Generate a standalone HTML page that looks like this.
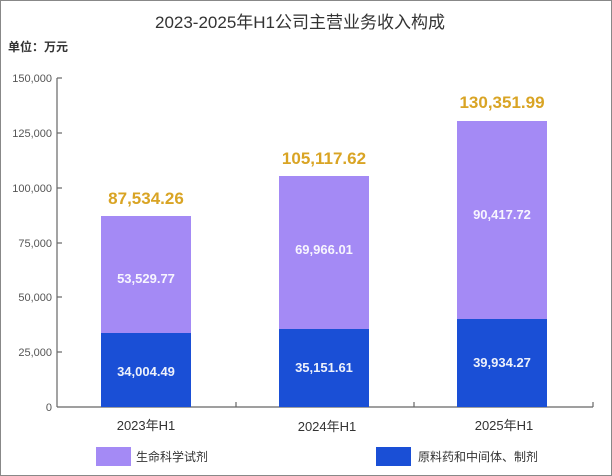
<!DOCTYPE html>
<html><head><meta charset="utf-8"><style>
body{margin:0;background:#fff;}
svg{display:block;font-family:"Liberation Sans","Noto Sans CJK SC",sans-serif;}
</style></head><body>
<svg width="612" height="476" viewBox="0 0 612 476">
<rect x="0.5" y="0.5" width="611" height="475" fill="#fff" stroke="#888"/>
<text x="300" y="28" text-anchor="middle" font-size="17" fill="#333">2023-2025年H1公司主营业务收入构成</text>
<text x="8" y="51" font-size="12" font-weight="bold" fill="#333">单位：万元</text>
<g font-size="11" fill="#555" text-anchor="end">
<text x="52" y="82">150,000</text>
<text x="52" y="137">125,000</text>
<text x="52" y="192">100,000</text>
<text x="52" y="247">75,000</text>
<text x="52" y="301">50,000</text>
<text x="52" y="356">25,000</text>
<text x="52" y="411">0</text>
</g>
<g stroke="#666" stroke-width="1.2">
<line x1="57" y1="78" x2="57" y2="407"/>
<line x1="57" y1="407" x2="593" y2="407"/>
<line x1="57" y1="78" x2="62" y2="78"/><line x1="57" y1="133" x2="62" y2="133"/>
<line x1="57" y1="188" x2="62" y2="188"/><line x1="57" y1="243" x2="62" y2="243"/>
<line x1="57" y1="297" x2="62" y2="297"/><line x1="57" y1="352" x2="62" y2="352"/>
<line x1="236" y1="402" x2="236" y2="407"/><line x1="414" y1="402" x2="414" y2="407"/><line x1="593" y1="402" x2="593" y2="407"/>
</g>
<g fill="#a48af5">
<rect x="101" y="216" width="90" height="117"/>
<rect x="279" y="176" width="90" height="153"/>
<rect x="457" y="121" width="90" height="198"/>
</g>
<g fill="#1a4fd6">
<rect x="101" y="333" width="90" height="74"/>
<rect x="279" y="329" width="90" height="78"/>
<rect x="457" y="319" width="90" height="88"/>
</g>
<g font-size="17" font-weight="bold" fill="#d9a424" text-anchor="middle">
<text x="146" y="204">87,534.26</text>
<text x="324" y="164">105,117.62</text>
<text x="502" y="108">130,351.99</text>
</g>
<g font-size="13" font-weight="bold" fill="#fff" text-anchor="middle" opacity="0.92">
<text x="146" y="283">53,529.77</text>
<text x="146" y="376">34,004.49</text>
<text x="324" y="254">69,966.01</text>
<text x="324" y="372">35,151.61</text>
<text x="502" y="219">90,417.72</text>
<text x="502" y="367">39,934.27</text>
</g>
<g font-size="13" fill="#333" text-anchor="middle">
<text x="146" y="430">2023年H1</text>
<text x="327" y="431">2024年H1</text>
<text x="504" y="430">2025年H1</text>
</g>
<rect x="96" y="447" width="35" height="19" fill="#a48af5"/>
<text x="136" y="461" font-size="12" fill="#333">生命科学试剂</text>
<rect x="376" y="447" width="35" height="19" fill="#1a4fd6"/>
<text x="418" y="461" font-size="12" fill="#333">原料药和中间体、制剂</text>
</svg>
</body></html>
